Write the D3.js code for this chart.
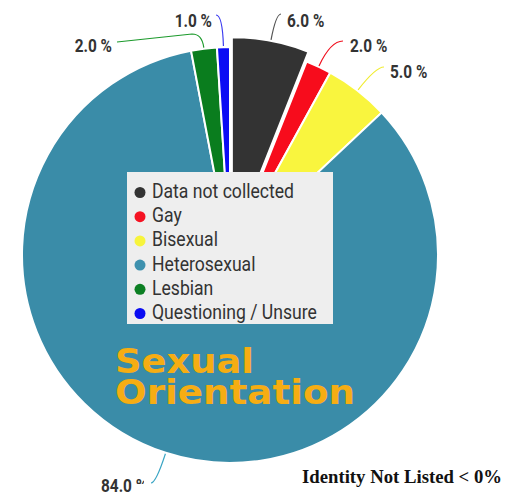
<!DOCTYPE html>
<html><head><meta charset="utf-8">
<script src="https://cdn.jsdelivr.net/npm/d3@7"></script>
<style>html,body{margin:0;padding:0;background:#fff;} svg{display:block}</style>
</head><body>
<svg id="c" width="512" height="495"></svg>
<script>
// ---- data ----
const categories = ["Data not collected","Gay","Bisexual","Heterosexual","Lesbian","Questioning / Unsure"];
const values = [6, 2, 5, 84, 2, 1];
const valueLabels = ["6.0 %","2.0 %","5.0 %","84.0 %","2.0 %","1.0 %"];
const titleLines = ["Sexual","Orientation"];
const footnote = "Identity Not Listed < 0%";

// ---- styles ----
const sliceColors = ["#333333","#f70c1c","#f9f53e","#3a8ca8","#0a7d1e","#0b0cf4"];
const dotColors   = ["#333333","#f51323","#f7f43c","#3e91ae","#0c7f23","#0a0cf2"];
const leaderColors= ["#555555","#f0101e","#f0ec30","#3aa5c4","#1c9a2c","#3a3af0"];

// ---- layout ----
const cx = 230, cy = 255, R = 208;
const explode = [10,0,0,0,0,0];
const leaderEnds = [[281,14],[343,41],[384,67],[151,483],[192,34],[216,15]];
const labelPos = [[287,27,"start"],[350,52,"start"],[390,78,"start"],[101,492,"start"],[112,52,"end"],[212,27,"end"]];

const svg = d3.select("#c");
const pie = d3.pie().sort(null).value(d => d)(values);
const arc = d3.arc().innerRadius(0).outerRadius(R);
pie.forEach((p,i) => {
  const m = (p.startAngle + p.endAngle) / 2;
  p.mid = m;
  p.off = [Math.sin(m) * explode[i], -Math.cos(m) * explode[i]];
});

const g = svg.append("g").attr("transform", `translate(${cx},${cy})`);
g.selectAll("path.slice").data(pie).join("path")
  .attr("class","slice")
  .attr("transform", d => `translate(${d.off[0]},${d.off[1]})`)
  .attr("d", arc)
  .attr("fill", (d,i) => sliceColors[i])
  .attr("stroke", "#fff").attr("stroke-width", 2).attr("stroke-linejoin","round");

// leader lines
pie.forEach((p,i) => {
  const m = p.mid;
  const sx = cx + p.off[0] + Math.sin(m) * (R + 1);
  const sy = cy + p.off[1] - Math.cos(m) * (R + 1);
  const [tx, ty] = leaderEnds[i];
  const t = (sy - ty) / Math.cos(m);
  const c1x = sx + Math.sin(m) * t, c1y = ty;
  const path = d3.path();
  path.moveTo(sx, sy);
  path.quadraticCurveTo(c1x, c1y, tx, ty);
  if (i === 4) path.lineTo(117, 42);
  svg.append("path").attr("d", path.toString())
    .attr("fill","none").attr("stroke", leaderColors[i]).attr("stroke-width", 1.2);
});

// clip for the bottom label (partly cut off in the original)
const defs = svg.append("defs");
const cp = defs.append("clipPath").attr("id","cut");
cp.append("rect").attr("x",0).attr("y",0).attr("width",136).attr("height",495);
cp.append("rect").attr("x",136).attr("y",478).attr("width",8).attr("height",6);

// value labels
valueLabels.forEach((lab,i) => {
  const [x,y,anchor] = labelPos[i];
  const tg = svg.append("g");
  if (i === 3) tg.attr("clip-path","url(#cut)");
  tg.append("text")
    .attr("transform", `translate(${x},${y}) scale(0.88,1)`)
    .attr("text-anchor", anchor)
    .attr("font-family","Roboto, sans-serif").attr("font-weight","bold").attr("font-size",17.5)
    .attr("fill","#333333")
    .text(lab);
});

// legend
svg.append("rect").attr("x",127).attr("y",172).attr("width",206).attr("height",152).attr("fill","#eeeeee");
const rows = svg.selectAll("g.leg").data(categories).join("g").attr("class","leg")
  .attr("transform",(d,i) => `translate(0,${198 + i*24.2})`);
rows.append("circle").attr("cx",140).attr("cy",-5.5).attr("r",5.5).attr("fill",(d,i) => dotColors[i]);
rows.append("text")
  .attr("transform","translate(152,0) scale(0.88,1)")
  .attr("font-family","Roboto, sans-serif").attr("font-size",20).attr("fill","#333333")
  .text(d => d);

// title (one text element, two lines)
const title = svg.append("text")
  .attr("font-family","'DejaVu Sans', sans-serif").attr("font-weight","bold").attr("font-size",33)
  .attr("fill","#f6ad13");
titleLines.forEach((t,i) => {
  title.append("tspan").attr("x",115).attr("y",373 + i*31)
    .attr("textLength", i === 0 ? 139 : 240).attr("lengthAdjust","spacingAndGlyphs")
    .text(t);
});

// footnote
svg.append("text").attr("x",302).attr("y",483)
  .attr("font-family","'Liberation Serif', serif").attr("font-weight","bold").attr("font-size",19)
  .attr("fill","#111111")
  .attr("textLength",200).attr("lengthAdjust","spacingAndGlyphs")
  .text(footnote);
</script>
</body></html>
